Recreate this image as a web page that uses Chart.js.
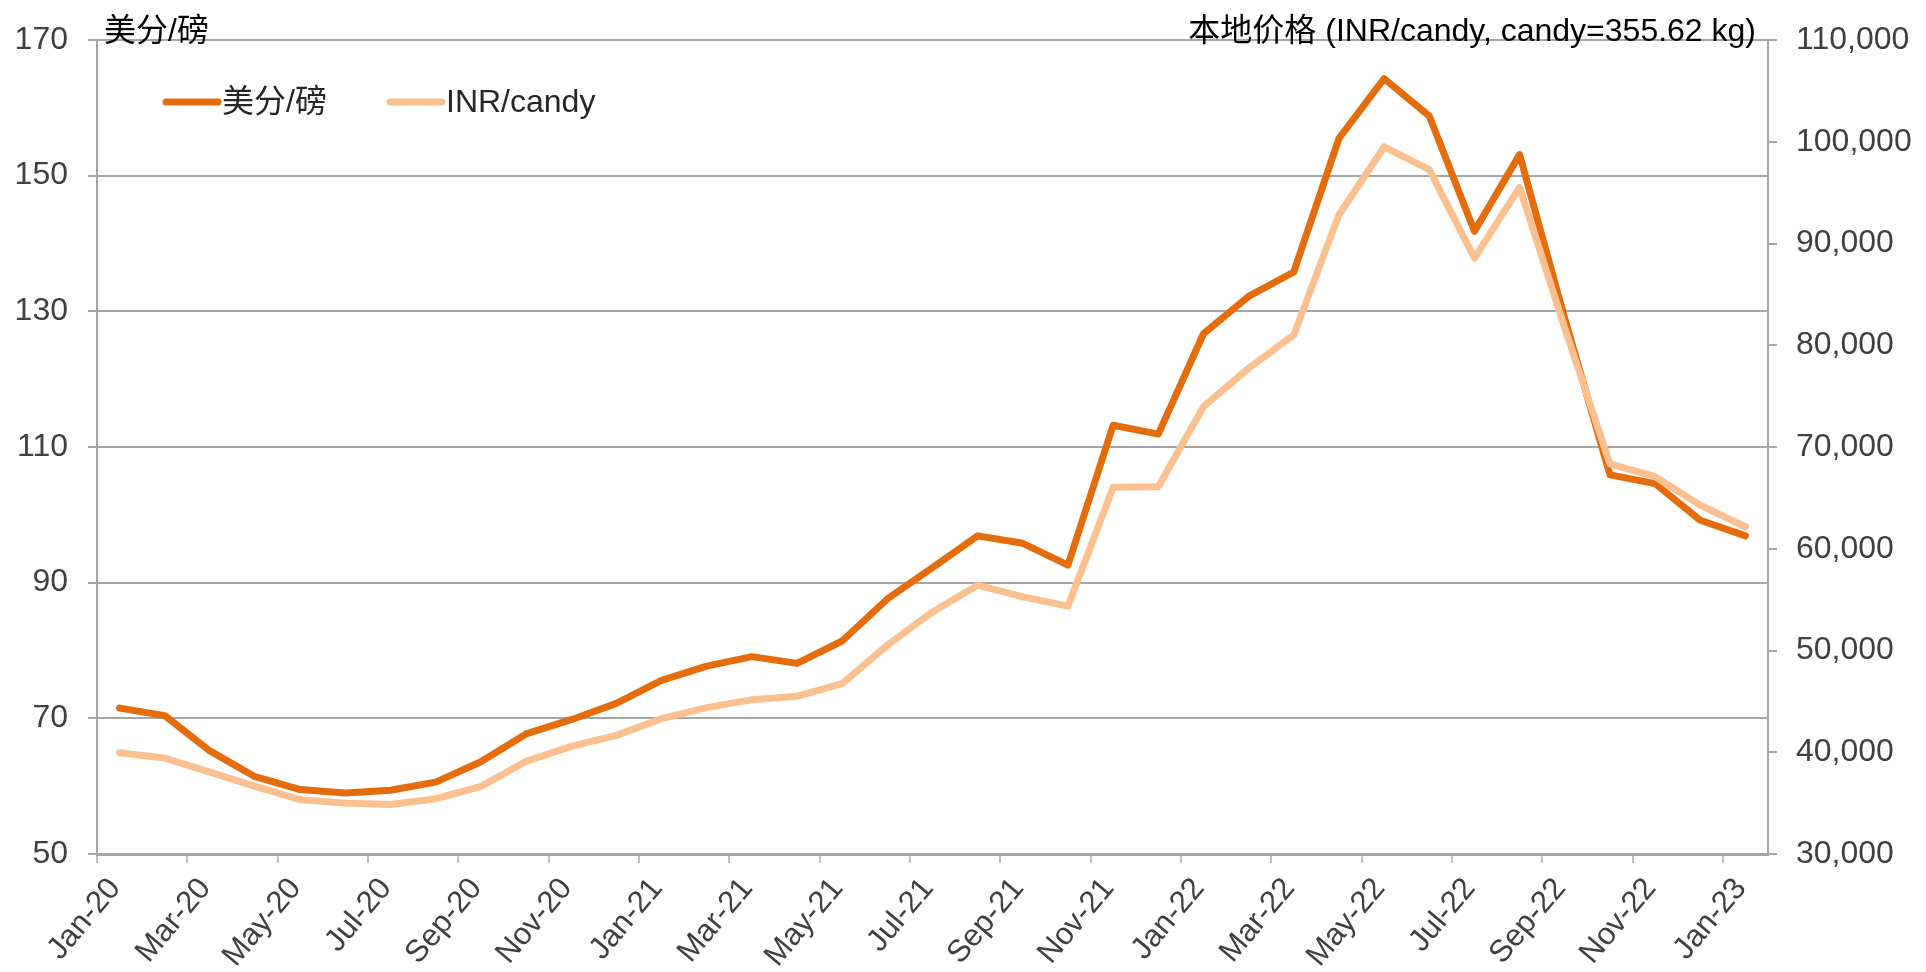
<!DOCTYPE html>
<html>
<head>
<meta charset="utf-8">
<script src="https://cdn.jsdelivr.net/npm/chart.js@4/dist/chart.umd.min.js"></script>
<style>
  html, body { margin: 0; padding: 0; background: #fff; }
  #wrap { position: relative; width: 1926px; height: 972px; }
</style>
</head>
<body>
<div id="wrap"><canvas id="chart" width="1926" height="972"></canvas></div>
<script>
const FONT = "'Liberation Sans', 'Noto Sans CJK SC', sans-serif";

const months = [
  "Jan-20", "Feb-20", "Mar-20", "Apr-20", "May-20", "Jun-20", "Jul-20", "Aug-20", "Sep-20", "Oct-20", "Nov-20", "Dec-20",
  "Jan-21", "Feb-21", "Mar-21", "Apr-21", "May-21", "Jun-21", "Jul-21", "Aug-21", "Sep-21", "Oct-21", "Nov-21", "Dec-21",
  "Jan-22", "Feb-22", "Mar-22", "Apr-22", "May-22", "Jun-22", "Jul-22", "Aug-22", "Sep-22", "Oct-22", "Nov-22", "Dec-22",
  "Jan-23"
];

// 美分/磅 (left axis)
const centsPerLb = [
  71.5, 70.4, 65.2, 61.4, 59.5, 59.0, 59.4, 60.6, 63.6, 67.7, 69.8, 72.2,
  75.6, 77.7, 79.1, 78.1, 81.4, 87.6, 92.2, 96.9, 95.8, 92.6, 113.2, 111.9,
  126.7, 132.2, 135.8, 155.5, 164.3, 158.8, 141.8, 153.1, 128.9, 105.9, 104.6, 99.2,
  96.9
];

// INR/candy (right axis)
const inrPerCandy = [
  39960, 39430, 38050, 36640, 35330, 35000, 34870, 35430, 36640, 39100, 40580, 41660,
  43300, 44390, 45170, 45500, 46750, 50520, 53790, 56420, 55270, 54360, 66040, 66100,
  73970, 77740, 81020, 92830, 99490, 97260, 88570, 95520, 81700, 68330, 67080, 64290,
  62160
];

const leftTitle = "美分/磅";
const rightTitle = "本地价格 (INR/candy, candy=355.62 kg)";
const seriesNames = ["美分/磅", "INR/candy"];
const seriesColors = ["#E46C0A", "#FAC08F"];

const GRID = "#A6A6A6";
const TICK_COLOR = "#404040";

function points(values) {
  // each month sits in the middle of its slot on the x scale
  return values.map((v, i) => ({ x: i + 0.5, y: v }));
}

// axis titles and legend, drawn over the plot like the original
const overlay = {
  id: "overlay",
  afterDraw(chart) {
    const ctx = chart.ctx;
    const area = chart.chartArea;
    ctx.save();
    ctx.font = "32px " + FONT;
    ctx.fillStyle = "#000";
    ctx.textBaseline = "alphabetic";
    ctx.textAlign = "left";
    ctx.fillText(leftTitle, area.left + 7, area.top + 1);
    ctx.textAlign = "right";
    ctx.fillText(rightTitle, area.right - 12, area.top + 1);

    const legendX = [166, 390];
    const legendY = 102;
    ctx.textAlign = "left";
    ctx.textBaseline = "middle";
    ctx.font = "32px " + FONT;
    chart.data.datasets.forEach((ds, i) => {
      ctx.strokeStyle = ds.borderColor;
      ctx.lineWidth = 7;
      ctx.lineCap = "round";
      ctx.beginPath();
      ctx.moveTo(legendX[i], legendY);
      ctx.lineTo(legendX[i] + 52, legendY);
      ctx.stroke();
      ctx.fillStyle = "#262626";
      ctx.fillText(ds.label, legendX[i] + 56, legendY + 1);
    });
    ctx.restore();
  }
};

new Chart(document.getElementById("chart").getContext("2d"), {
  type: "line",
  data: {
    datasets: [
      {
        label: seriesNames[0],
        data: points(centsPerLb),
        yAxisID: "y",
        borderColor: seriesColors[0],
        backgroundColor: seriesColors[0],
        borderWidth: 7,
        pointRadius: 0,
        tension: 0,
        borderJoinStyle: "round",
        borderCapStyle: "round",
        order: 1
      },
      {
        label: seriesNames[1],
        data: points(inrPerCandy),
        yAxisID: "y2",
        borderColor: seriesColors[1],
        backgroundColor: seriesColors[1],
        borderWidth: 7,
        pointRadius: 0,
        tension: 0,
        borderJoinStyle: "round",
        borderCapStyle: "round",
        order: 0
      }
    ]
  },
  options: {
    responsive: false,
    animation: false,
    layout: { padding: { top: 40, left: 0, right: 0, bottom: 0 } },
    plugins: {
      legend: { display: false },
      tooltip: { enabled: false },
      title: { display: false }
    },
    scales: {
      x: {
        type: "linear",
        min: 0,
        max: months.length,
        afterBuildTicks(scale) {
          scale.ticks = months.map((_, i) => ({ value: i })).filter(t => t.value % 2 === 0);
        },
        afterFit(scale) { scale.height = 118; },
        grid: {
          drawOnChartArea: false,
          drawTicks: true,
          tickLength: 9,
          color: "#BFBFBF",
          lineWidth: 2
        },
        border: { display: true, color: GRID, width: 3 },
        ticks: {
          autoSkip: false,
          maxRotation: 50,
          minRotation: 50,
          padding: 8,
          labelOffset: 18,
          color: TICK_COLOR,
          font: { family: FONT, size: 31 },
          callback: (value) => months[value]
        }
      },
      y: {
        position: "left",
        min: 50,
        max: 170,
        afterFit(scale) { scale.width = 97; },
        grid: { color: GRID, lineWidth: 2, tickLength: 9 },
        border: { display: true, color: GRID, width: 2 },
        ticks: {
          stepSize: 20,
          padding: 20,
          color: TICK_COLOR,
          font: { family: FONT, size: 32 }
        }
      },
      y2: {
        position: "right",
        min: 30000,
        max: 110000,
        afterFit(scale) { scale.width = 158; },
        grid: { drawOnChartArea: false, color: GRID, lineWidth: 2, tickLength: 9 },
        border: { display: true, color: GRID, width: 2 },
        ticks: {
          stepSize: 10000,
          padding: 19,
          color: TICK_COLOR,
          font: { family: FONT, size: 32 },
          callback: (value) => value.toLocaleString("en-US")
        }
      }
    }
  },
  plugins: [overlay]
});
</script>
</body>
</html>
